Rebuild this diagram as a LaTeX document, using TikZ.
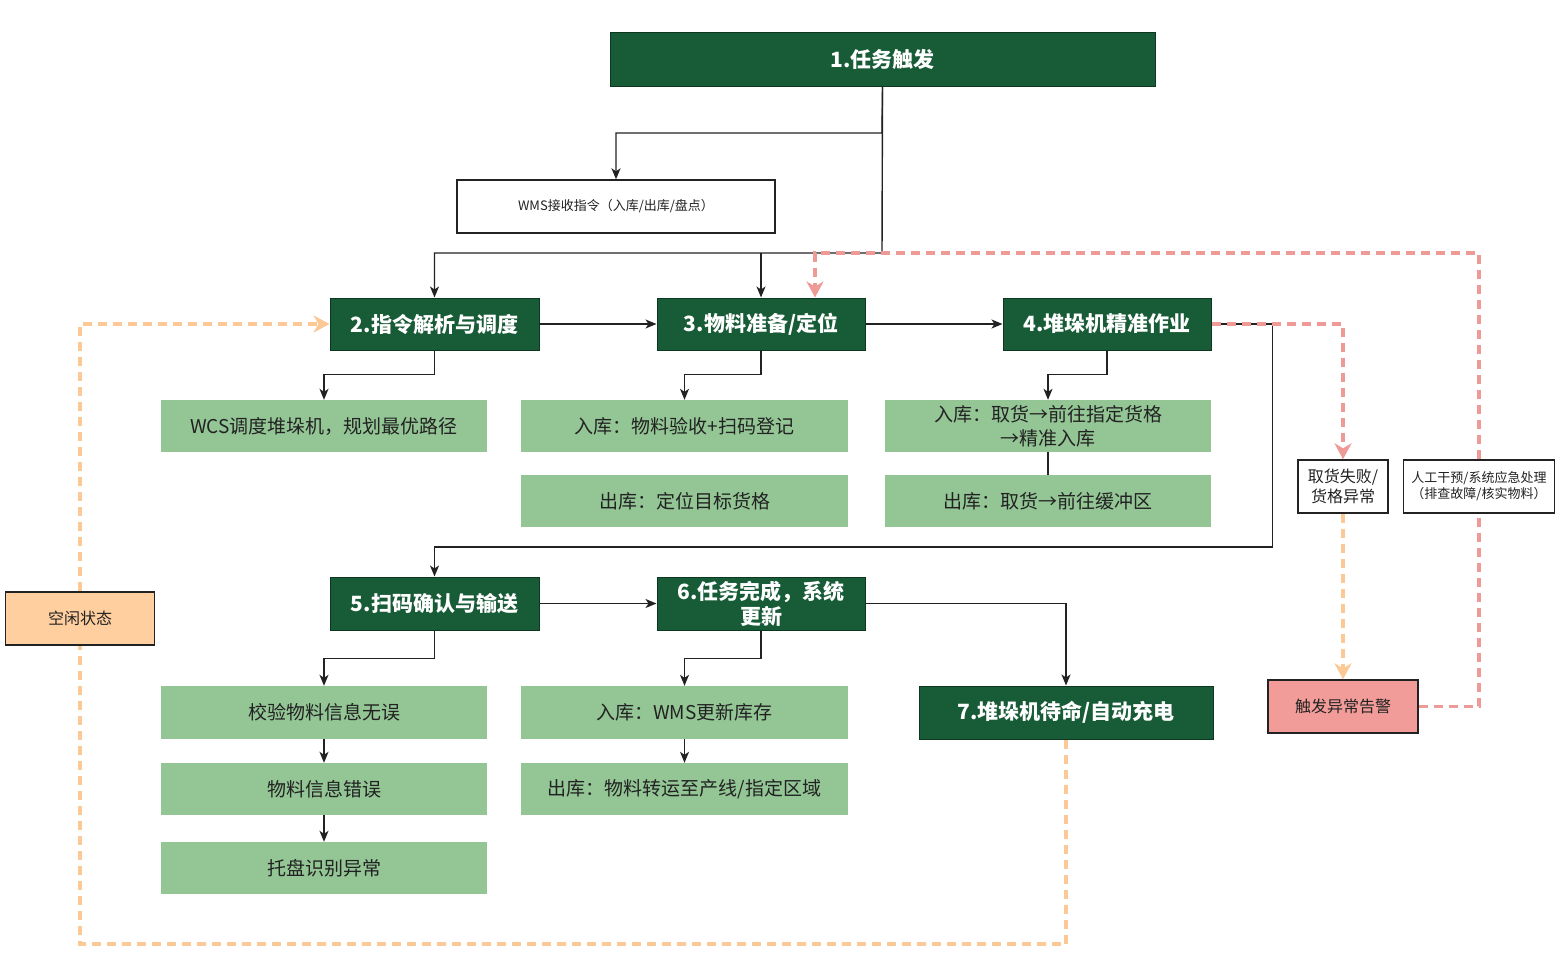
\documentclass[tikz,border=0pt]{standalone}
\usepackage{fontspec}
\setmainfont{Noto Sans CJK SC}
\usetikzlibrary{arrows.meta}
\definecolor{dg}{HTML}{185B37}
\definecolor{lg}{HTML}{93C595}
\definecolor{peach}{HTML}{FFCF9F}
\definecolor{alarmc}{HTML}{F19C99}
\definecolor{pinkl}{HTML}{EE9B98}
\definecolor{orangel}{HTML}{FBC896}
\definecolor{ink}{HTML}{222222}
\tikzset{
  title/.style={fill=dg, draw=dg!60!black, line width=1pt, text=white, font=\fontsize{21}{25}\selectfont\bfseries, align=center, inner sep=0pt},
  sub/.style={fill=lg, text=ink, font=\fontsize{19}{24}\selectfont, align=center, inner sep=0pt, minimum width=326pt, minimum height=52pt},
  wbox/.style={fill=white, draw=ink, line width=1.4pt, text=ink, align=center, inner sep=0pt},
  conn/.style={draw=ink, line width=1.4pt, -{Stealth[length=11pt,width=9pt,inset=3pt]}},
  plain/.style={draw=ink, line width=1.4pt},
  pdash/.style={draw=pinkl, line width=3.2pt, dash pattern=on 9pt off 6pt},
  odash/.style={draw=orangel, line width=3.2pt, dash pattern=on 9pt off 6pt},
  parr/.style={-{Stealth[length=16pt,width=17pt,inset=5pt]}}
}
\begin{document}
\begin{tikzpicture}[x=1pt,y=-1pt]
\useasboundingbox (0,0) rectangle (1562,974);
% main steps
\node[title, minimum width=545pt, minimum height=53pt] (n1) at (882.5,59.5) {1.任务触发};
\node[wbox, minimum width=318pt, minimum height=53pt, font=\fontsize{13}{16}\selectfont] (wms) at (616,206.5) {WMS接收指令（入库/出库/盘点）};
\node[title, minimum width=209pt, minimum height=52pt] (n2) at (434.5,324) {2.指令解析与调度};
\node[title, minimum width=208pt, minimum height=52pt] (n3) at (761,324) {3.物料准备/定位};
\node[title, minimum width=208pt, minimum height=52pt] (n4) at (1107,324) {4.堆垛机精准作业};
\node[sub] (a2) at (324,426) {WCS调度堆垛机，规划最优路径};
\node[sub, minimum width=327pt] (a3) at (684.5,426) {入库：物料验收+扫码登记};
\node[sub, minimum width=327pt] (b3) at (684.5,501) {出库：定位目标货格};
\node[sub] (a4) at (1048,426) {入库：取货→前往指定货格\\→精准入库};
\node[sub] (b4) at (1048,501) {出库：取货→前往缓冲区};
\node[title, minimum width=209pt, minimum height=53pt] (n5) at (434.5,603.5) {5.扫码确认与输送};
\node[title, minimum width=208pt, minimum height=53pt] (n6) at (761,603.5) {6.任务完成，系统\\更新};
\node[title, minimum width=294pt, minimum height=53pt] (n7) at (1066,712.5) {7.堆垛机待命/自动充电};
\node[sub, minimum height=53pt] (a5) at (324,712.5) {校验物料信息无误};
\node[sub] (b5) at (324,789) {物料信息错误};
\node[sub] (c5) at (324,868) {托盘识别异常};
\node[sub, minimum width=327pt, minimum height=53pt] (a6) at (684.5,712.5) {入库：WMS更新库存};
\node[sub, minimum width=327pt] (b6) at (684.5,789) {出库：物料转运至产线/指定区域};
% side boxes
\node[wbox, fill=peach, minimum width=149pt, minimum height=53pt, font=\fontsize{16}{20}\selectfont] (idle) at (80,618.5) {空闲状态};
\node[wbox, minimum width=90pt, minimum height=53pt, font=\fontsize{16}{20}\selectfont] (fail) at (1343,486.5) {取货失败/\\货格异常};
\node[wbox, minimum width=151pt, minimum height=53pt, font=\fontsize{13}{16}\selectfont] (manual) at (1479,486.5) {人工干预/系统应急处理\\（排查故障/核实物料）};
\node[wbox, fill=alarmc, minimum width=150pt, minimum height=53pt, font=\fontsize{16}{20}\selectfont] (alarm) at (1343,706.5) {触发异常告警};
% coordinates
\coordinate (j1) at (882,133);
\coordinate (j2) at (882,253);
\coordinate (pk) at (815,253);
\coordinate (ob) at (80,944);
% orange dashed
\draw[odash] (n7.south) |- (ob) -- (idle.south);
\draw[odash, parr] (idle.north) |- (n2.west);
\draw[odash, parr] (fail.south) -- (alarm.north);
% solid connectors
\draw[conn] (n1.south) -- (j1) -| (wms.north);
\draw[conn] (n1.south) -- (j2) -| (n2.north);
\draw[conn] (j2 -| n3.north) -- (n3.north);
\draw[conn] (n2.east) -- (n3.west);
\draw[conn] (n3.east) -- (n4.west);
\draw[conn] (n2.south) -- ++(0,24) -| (a2.north);
\draw[conn] (n3.south) -- ++(0,24) -| (a3.north);
\draw[conn] (n4.south) -- ++(0,24) -| (a4.north);
\draw[plain] (a4.south) -- (b4.north);
\draw[conn] (n4.east) -| ++(61,223) -| (n5.north);
\draw[conn] (n5.east) -- (n6.west);
\draw[conn] (n6.east) -| (n7.north);
\draw[conn] (n5.south) -- ++(0,28) -| (a5.north);
\draw[conn] (a5.south) -- (b5.north);
\draw[conn] (b5.south) -- (c5.north);
\draw[conn] (n6.south) -- ++(0,28) -| (a6.north);
\draw[conn] (a6.south) -- (b6.north);
% pink dashed (on top)
\draw[pdash, parr] (n4.east) -| (fail.north);
\draw[pdash] (alarm.east) -| (manual.south);
\draw[pdash, parr] (manual.north) |- (pk) -- (pk |- n3.north);
\end{tikzpicture}
\end{document}
